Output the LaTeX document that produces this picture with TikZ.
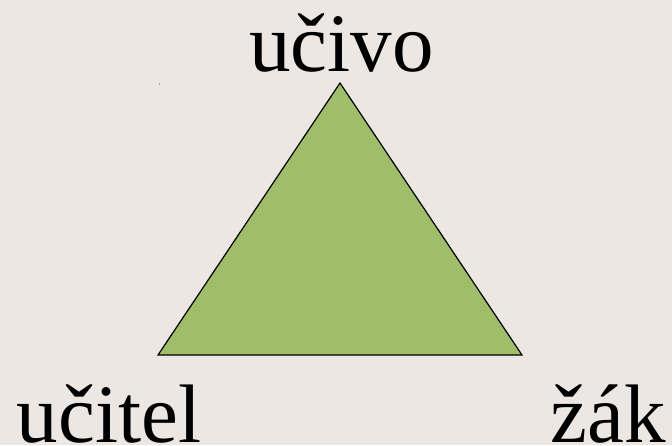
\documentclass[tikz,border=0pt]{standalone}
\usepackage{fontspec}
\setmainfont{Liberation Serif}
\definecolor{bgc}{HTML}{ECE7E2}
\definecolor{trig}{HTML}{A0BE69}
\begin{document}
\begin{tikzpicture}[x=1pt,y=1pt,
  lbl/.style={inner sep=0pt,anchor=base,font=\fontsize{83}{90}\selectfont}]
\fill[bgc] (0,0) rectangle (672,445);
\useasboundingbox (0,0) rectangle (672,445);
\coordinate (A) at (340,362);
\coordinate (B) at (158,90);
\coordinate (C) at (522,90);
\draw[fill=trig,line width=1.2pt,line join=miter] (A) -- (B) -- (C) -- cycle;
\node[lbl] (ucivo) at (341.5,373) {učivo};
\node[lbl] (ucitel) at (109,3) {učitel};
\node[lbl] (zak) at (608.5,3) {žák};
\fill[gray!70] (158.5,360) rectangle (160,361.5);
\end{tikzpicture}
\end{document}
